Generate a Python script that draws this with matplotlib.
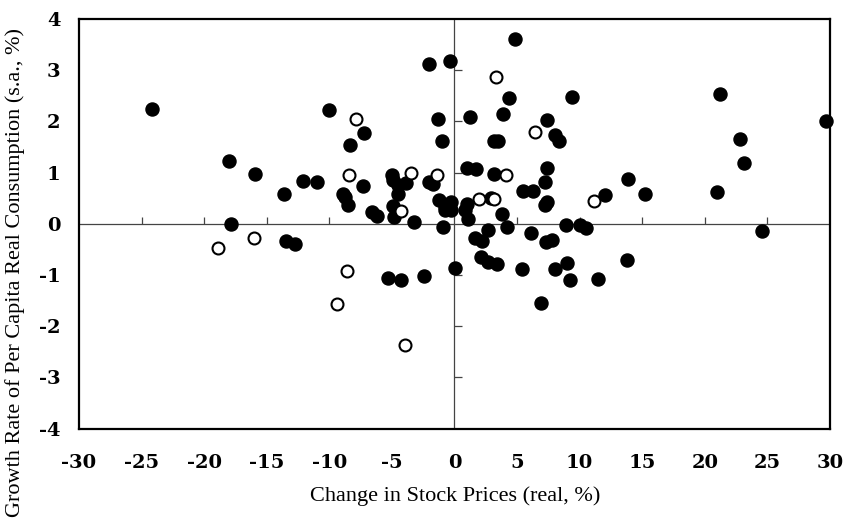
import numpy as np
import matplotlib
matplotlib.use("Agg")
import matplotlib.pyplot as plt

plt.rcParams["font.family"] = ["DejaVu Serif"]

# stock price change (real, %) vs. consumption growth (s.a., %)
filled_x = [-24.2, -18.0, -15.9, -13.6, -17.85, -13.5, -12.75, -12.1, -10.96, -10.0,
            -7.23, -8.35, -7.28, -8.93, -8.75, -8.48, -6.57, -6.2, -4.97, -4.89,
            -4.49, -3.87, -4.49, -4.89, -4.83, -3.2, -2.0, -1.7, -1.21, -0.76,
            -0.3, -0.76, -0.3, -0.89, -2.0, -0.33, -1.34, -1.02, 0.97, 1.69,
            1.02, 0.84, 1.1, 2.89, 3.77, 4.2, 1.64, 2.2, 2.7, 6.1,
            5.5, 6.3, 7.36, 7.23, 7.36, 7.23, 7.31, 7.76, 8.9, 10.02,
            10.5, 4.83, 4.33, 9.36, 1.24, 3.87, 7.4, 8.05, 8.37, 3.18,
            3.5, 3.15, 21.2, 29.65, 22.8, 23.15, 21.0, 13.9, 12.05, 15.2,
            24.56, 8.96, 8.03, 9.22, 11.44, 13.8, -5.29, -4.3, -2.46, 0.04,
            2.12, 2.7, 3.37, 5.37, 6.9]
filled_y = [2.25, 1.22, 0.98, 0.58, 0.0, -0.33, -0.39, 0.83, 0.82, 2.22,
            1.78, 1.53, 0.73, 0.59, 0.53, 0.36, 0.23, 0.15, 0.95, 0.85,
            0.75, 0.79, 0.59, 0.34, 0.13, 0.04, 0.82, 0.77, 0.46, 0.33,
            0.43, 0.28, 0.27, -0.07, 3.12, 3.17, 2.04, 1.61, 1.1, 1.08,
            0.38, 0.27, 0.1, 0.51, 0.2, -0.06, -0.27, -0.33, -0.12, -0.18,
            0.64, 0.64, 1.1, 0.81, 0.43, 0.36, -0.35, -0.32, -0.02, -0.02,
            -0.09, 3.6, 2.45, 2.48, 2.08, 2.14, 2.03, 1.73, 1.61, 1.61,
            1.61, 0.97, 2.53, 2.01, 1.66, 1.18, 0.63, 0.88, 0.57, 0.59,
            -0.14, -0.76, -0.89, -1.09, -1.08, -0.7, -1.06, -1.1, -1.01, -0.86,
            -0.65, -0.74, -0.78, -0.89, -1.54]

open_x = [-16.0, -18.9, -7.84, -8.4, -4.25, -3.5, -1.37, 3.3, 6.45, 4.11,
          1.93, 3.15, 11.14, -8.6, -9.4, -3.95]
open_y = [-0.27, -0.48, 2.04, 0.96, 0.26, 0.99, 0.96, 2.87, 1.8, 0.95,
          0.49, 0.49, 0.45, -0.92, -1.57, -2.37]

x_ticks = np.arange(-30, 31, 5)
y_ticks = np.arange(-4, 5, 1)

fig = plt.figure(figsize=(8.46, 5.23), dpi=100)
ax = fig.add_axes([0.0934, 0.1803, 0.8876, 0.7834])
ax.set_xlim(-30, 30)
ax.set_ylim(-4, 4)

# zero lines with their own small ticks
ax.axhline(0, color="#444444", lw=0.9, zorder=1)
ax.axvline(0, color="#444444", lw=0.9, zorder=1)
inner_x = x_ticks[(x_ticks > -30) & (x_ticks < 30) & (x_ticks != 0)]
inner_y = y_ticks[(y_ticks > -4) & (y_ticks < 4) & (y_ticks != 0)]
ax.vlines(inner_x, 0, 0.13, color="#444444", lw=0.9, zorder=1)
ax.hlines(inner_y, 0, 0.6, color="#444444", lw=0.9, zorder=1)

ax.plot(filled_x, filled_y, "o", ms=9.4, color="black", mec="black", zorder=3, clip_on=False)
ax.plot(open_x, open_y, "o", ms=8.6, mfc="white", mec="black", mew=1.5, zorder=4, clip_on=False)

ax.set_xticks(x_ticks)
ax.set_yticks(y_ticks)
ax.set_xticklabels([str(v) for v in x_ticks], fontweight="bold")
ax.set_yticklabels([str(v) for v in y_ticks], fontweight="bold")
ax.tick_params(length=0, labelsize=14)
ax.tick_params(axis="x", pad=18)
ax.tick_params(axis="y", pad=13.5)

for s in ax.spines.values():
    s.set_linewidth(1.6)
    s.set_color("black")

ax.set_xlabel("Change in Stock Prices (real, %)", family="Liberation Serif", fontsize=16)
ax.set_ylabel("Growth Rate of Per Capita Real Consumption (s.a., %)", family="Liberation Serif",
              fontsize=16)
ax.xaxis.set_label_coords(0.501, -0.164)
ax.yaxis.set_label_coords(-0.085, 0.382)
ax.xaxis.label.set_va("center")
ax.yaxis.label.set_va("center")

fig.savefig("out.png", dpi=100)
